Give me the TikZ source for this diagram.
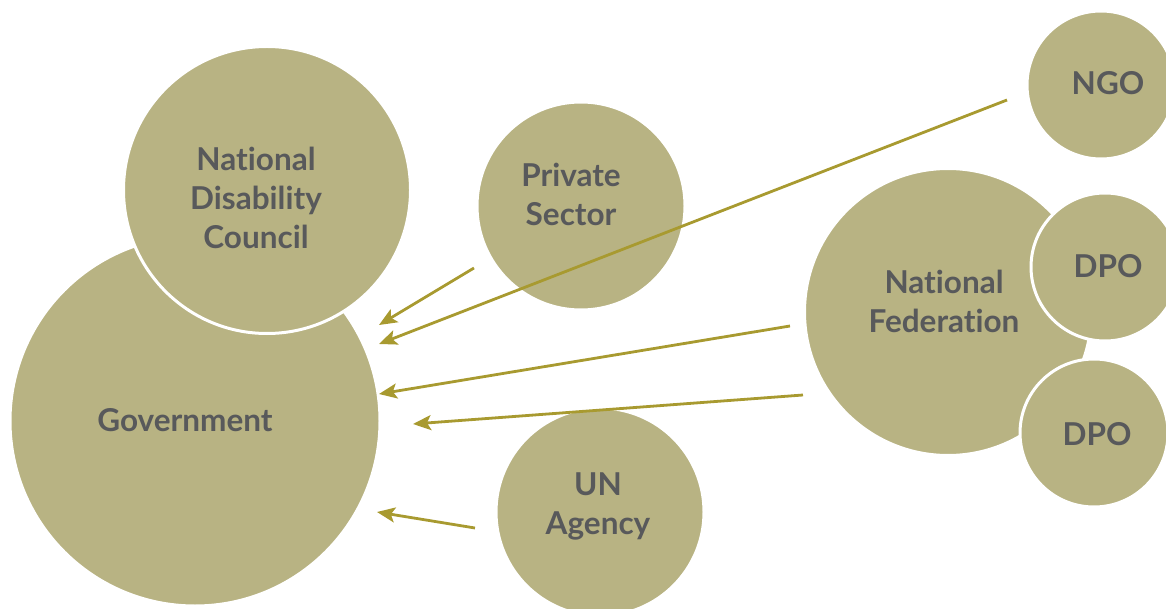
\documentclass[tikz,border=0pt]{standalone}
\usepackage{fontspec}
\setmainfont{Lato}[Ligatures=NoCommon]
\usepackage{xcolor}
\usetikzlibrary{arrows.meta}
\definecolor{bubble}{HTML}{B8B383}
\definecolor{link}{HTML}{A89A30}
\definecolor{label}{HTML}{58595B}

\begin{document}
\begin{tikzpicture}[x=1pt,y=-1pt]
                \tikzset{every node/.append style={inner sep=0pt}}
                \tikzset{bub/.style={circle,fill=bubble,draw=white,line width=3pt,
                        text=label,font=\fontsize{31.5}{39}\selectfont\bfseries,align=center}}
                \tikzset{tie/.style={draw=link,line width=2.8pt,-{Stealth[length=18pt,width=15pt,inset=4pt]}}}
                \useasboundingbox (0,0) rectangle (1166,609);
                % circles
                \node [bub,minimum size=370pt] (gov) at (195,421) {};
                \node [bub,minimum size=287pt] (ndc) at (267,190) {};
                \node [bub,minimum size=208pt] (pvt) at (581,206) {};
                \node [bub,minimum size=148pt] (ngo) at (1101,85) {};
                \node [bub,minimum size=287pt] (fed) at (948,312) {};
                \node [bub,minimum size=148pt] (dpoa) at (1105,267) {};
                \node [bub,minimum size=148pt] (dpob) at (1094,433) {};
                \node [bub,minimum size=208pt] (un) at (600,512) {};
                % labels
                \node [bub,draw=none,fill=none] (govt) at (185,420) {Government};
                \node [bub,draw=none,fill=none] (ndct) at (256,198) {National\\Disability\\Council};
                \node [bub,draw=none,fill=none] (pvtt) at (571,194) {Private\\Sector};
                \node [bub,draw=none,fill=none] (ngot) at (1108,83) {NGO};
                \node [bub,draw=none,fill=none] (fedt) at (944,301) {National\\Federation};
                \node [bub,draw=none,fill=none] (dpoat) at (1108,266) {DPO};
                \node [bub,draw=none,fill=none] (dpobt) at (1097,434) {DPO};
                \node [bub,draw=none,fill=none] (unt) at (598,506) {UN\\Agency};
                % arrow ends
                \coordinate (pvtS) at (474,268);
                \coordinate (pvtE) at (379,325);
                \coordinate (ngoS) at (1007,100);
                \coordinate (ngoE) at (379,344);
                \coordinate (fedS) at (790,326);
                \coordinate (fedE) at (379,394);
                \coordinate (fedS2) at (803,395);
                \coordinate (fedE2) at (413,424);
                \coordinate (unS) at (475,528);
                \coordinate (unE) at (377,512);
                \draw [tie] (pvtS) -- (pvtE);
                \draw [tie] (ngoS) -- (ngoE);
                \draw [tie] (fedS) -- (fedE);
                \draw [tie] (fedS2) -- (fedE2);
                \draw [tie] (unS) -- (unE);
\end{tikzpicture}
\end{document}
